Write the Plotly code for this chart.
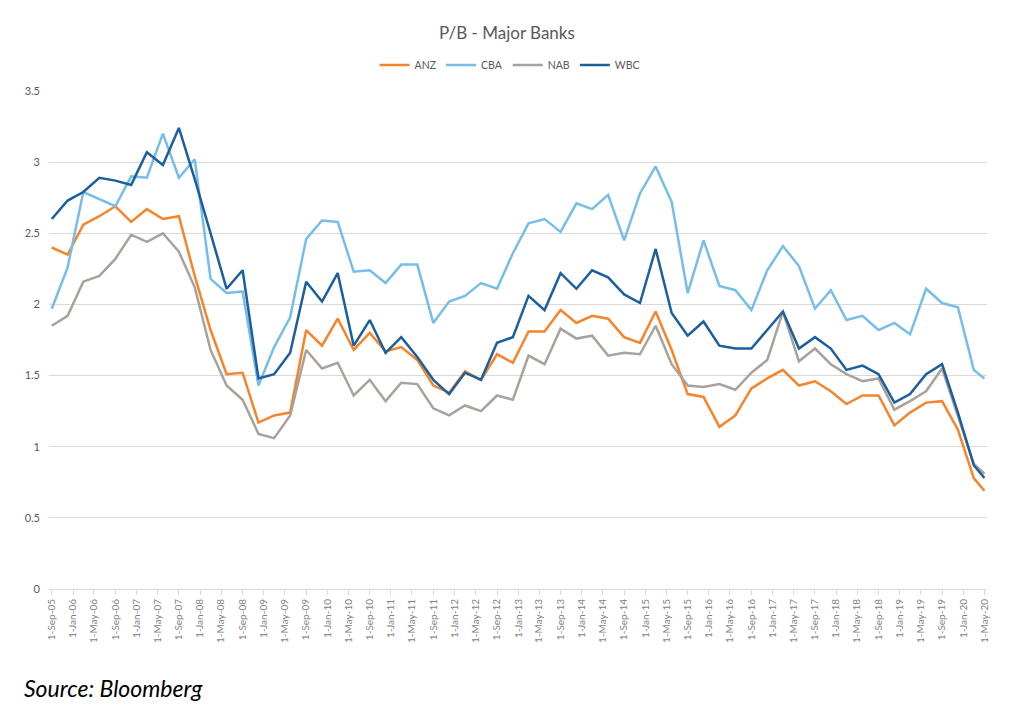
import pandas as pd
import plotly.graph_objects as go

# Quarterly observations Sep-05 .. Mar-20, plus a final May-20 reading
dates = list(pd.date_range("2005-09-01", "2020-03-01", freq="3MS")) + [pd.Timestamp("2020-05-01")]

anz = [2.40, 2.35, 2.56, 2.62, 2.69, 2.58, 2.67, 2.60, 2.62, 2.20,
       1.82, 1.51, 1.52, 1.17, 1.22, 1.24, 1.82, 1.71, 1.90, 1.68,
       1.80, 1.67, 1.70, 1.61, 1.43, 1.38, 1.53, 1.47, 1.65, 1.59,
       1.81, 1.81, 1.96, 1.87, 1.92, 1.90, 1.77, 1.73, 1.95, 1.68,
       1.37, 1.35, 1.14, 1.22, 1.41, 1.48, 1.54, 1.43, 1.46, 1.39,
       1.30, 1.36, 1.36, 1.15, 1.24, 1.31, 1.32, 1.12, 0.78, 0.69]

cba = [1.97, 2.26, 2.79, 2.74, 2.69, 2.90, 2.89, 3.20, 2.89, 3.02,
       2.18, 2.08, 2.09, 1.43, 1.70, 1.91, 2.46, 2.59, 2.58, 2.23,
       2.24, 2.15, 2.28, 2.28, 1.87, 2.02, 2.06, 2.15, 2.11, 2.36,
       2.57, 2.60, 2.51, 2.71, 2.67, 2.77, 2.45, 2.78, 2.97, 2.72,
       2.08, 2.45, 2.13, 2.10, 1.96, 2.24, 2.41, 2.27, 1.97, 2.10,
       1.89, 1.92, 1.82, 1.87, 1.79, 2.11, 2.01, 1.98, 1.54, 1.48]

nab = [1.85, 1.92, 2.16, 2.20, 2.32, 2.49, 2.44, 2.50, 2.37, 2.12,
       1.68, 1.43, 1.33, 1.09, 1.06, 1.22, 1.68, 1.55, 1.59, 1.36,
       1.47, 1.32, 1.45, 1.44, 1.27, 1.22, 1.29, 1.25, 1.36, 1.33,
       1.64, 1.58, 1.83, 1.76, 1.78, 1.64, 1.66, 1.65, 1.85, 1.58,
       1.43, 1.42, 1.44, 1.40, 1.52, 1.61, 1.95, 1.60, 1.69, 1.58,
       1.51, 1.46, 1.48, 1.26, 1.32, 1.39, 1.55, 1.22, 0.88, 0.81]

wbc = [2.60, 2.73, 2.79, 2.89, 2.87, 2.84, 3.07, 2.98, 3.24, 2.88,
       2.50, 2.11, 2.24, 1.48, 1.51, 1.66, 2.16, 2.02, 2.22, 1.71,
       1.89, 1.66, 1.77, 1.63, 1.47, 1.37, 1.52, 1.47, 1.73, 1.77,
       2.06, 1.96, 2.22, 2.11, 2.24, 2.19, 2.07, 2.01, 2.39, 1.94,
       1.78, 1.88, 1.71, 1.69, 1.69, 1.82, 1.95, 1.69, 1.77, 1.69,
       1.54, 1.57, 1.51, 1.31, 1.37, 1.51, 1.58, 1.24, 0.87, 0.78]

series_names = ["ANZ", "CBA", "NAB", "WBC"]
series_values = [anz, cba, nab, wbc]
series_colors = ["#F5842A", "#77BDEA", "#A9A19B", "#1C5F9E"]

tick_dates = list(pd.date_range("2005-09-01", "2020-05-01", freq="4MS"))
tick_labels = [f"1-{d.strftime('%b-%y')}" for d in tick_dates]

FONT = "Lato, 'Open Sans', sans-serif"

fig = go.Figure()
for name, vals, col in zip(series_names, series_values, series_colors):
    fig.add_trace(go.Scatter(x=dates, y=vals, name=name, mode="lines",
                             line=dict(color=col, width=2.5)))

fig.update_layout(
    width=1008, height=703,
    paper_bgcolor="white", plot_bgcolor="white",
    font=dict(family=FONT, color="#595959"),
    margin=dict(l=41, r=29, t=83, b=122),
    title=dict(text="P/B - Major Banks", x=0.495, xanchor="center", y=0.9644, yanchor="middle",
               font=dict(size=17, color="#595959", family=FONT)),
    legend=dict(orientation="h", x=0.491, xanchor="center", y=1.052, yanchor="middle",
                font=dict(size=10.5, color="#595959"), itemwidth=30, traceorder="normal",
                bgcolor="rgba(0,0,0,0)"),
    showlegend=True,
    annotations=[dict(text="<i>Source: Bloomberg</i>", xref="paper", yref="paper",
                      x=-0.0288, xanchor="left", y=-0.199, yanchor="middle", showarrow=False,
                      font=dict(size=23, color="#000000", family=FONT))],
)

fig.update_xaxes(
    type="date", range=["2005-08-16", "2020-05-16"],
    tickmode="array", tickvals=tick_dates, ticktext=tick_labels,
    tickangle=-90, tickfont=dict(size=10, color="#7F7F7F"),
    showgrid=False, showline=True, linecolor="#D9D9D9", linewidth=1,
    ticks="outside", ticklen=5, tickcolor="#D9D9D9", zeroline=False,
)
fig.update_yaxes(
    range=[0, 3.5], dtick=0.5, tick0=0,
    showgrid=True, gridcolor="#D9D9D9", gridwidth=1,
    zeroline=False, showline=False, ticks="",
    tickfont=dict(size=11, color="#595959"), ticklabelstandoff=8,
)

fig.write_html("out.html")
